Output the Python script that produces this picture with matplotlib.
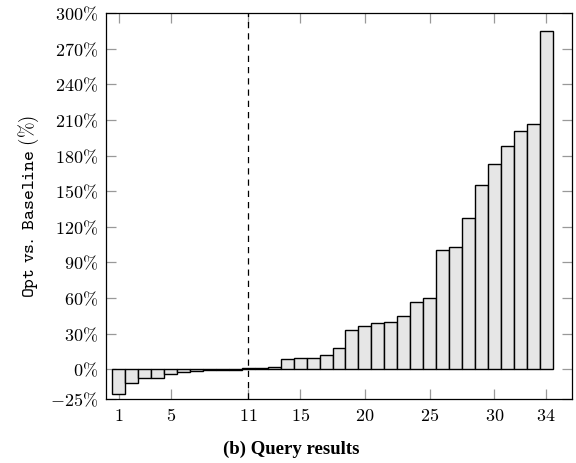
import matplotlib as mpl
import matplotlib.pyplot as plt
import numpy as np

mpl.use('Agg')

# query ids and relative change of Opt vs. Baseline (%)
queries = list(range(1, 35))
change = [-21.0, -11.7, -7.5, -7.0, -3.5, -2.5, -1.7, -0.8, -0.5, -0.2,
          1.1, 1.5, 1.7, 8.7, 9.5, 9.8, 12.0, 17.9, 33.0, 36.9,
          38.9, 40.3, 44.8, 56.8, 60.4, 100.2, 102.7, 127.6, 155.6, 172.6,
          188.3, 200.9, 206.8, 284.5]
xticks = [1, 5, 11, 15, 20, 25, 30, 34]
yticks = [-25, 0, 30, 60, 90, 120, 150, 180, 210, 240, 270, 300]
split_at = 11


def main():
    plt.rcParams['mathtext.fontset'] = 'cm'

    fig = plt.figure(figsize=(5.76, 4.63), dpi=100)
    ax = fig.add_axes([0.184, 0.138, 0.809, 0.834])

    ax.bar(queries, change, width=1.0, color='#e6e6e6', edgecolor='black',
           linewidth=1.0, zorder=2)
    ax.axvline(split_at, color='black', linestyle=(0, (5, 4)), linewidth=0.9,
               zorder=3)

    ax.set_xlim(0, 36)
    ax.set_ylim(-25, 300)
    ax.set_xticks(xticks)
    ax.set_xticklabels([r'$%d$' % t for t in xticks])
    ax.set_yticks(yticks)
    ax.set_yticklabels([r'$%d\%%$' % t for t in yticks])

    ax.tick_params(direction='in', length=7, width=0.9, color='#999999',
                   top=True, right=True, labelsize=13, pad=6)
    for s in ax.spines.values():
        s.set_linewidth(0.9)

    ax.set_ylabel(r'$\mathtt{Opt\ vs.\ Baseline}\ (\%)$', fontsize=13.5,
                  labelpad=6)

    # caption centred under the whole figure
    fig.text(0.505, 0.03, '(b) Query results', fontsize=13.5,
             fontweight='bold', family='Liberation Serif',
             ha='center', va='center')

    fig.savefig('out.png', dpi=100)


if __name__ == '__main__':
    main()
